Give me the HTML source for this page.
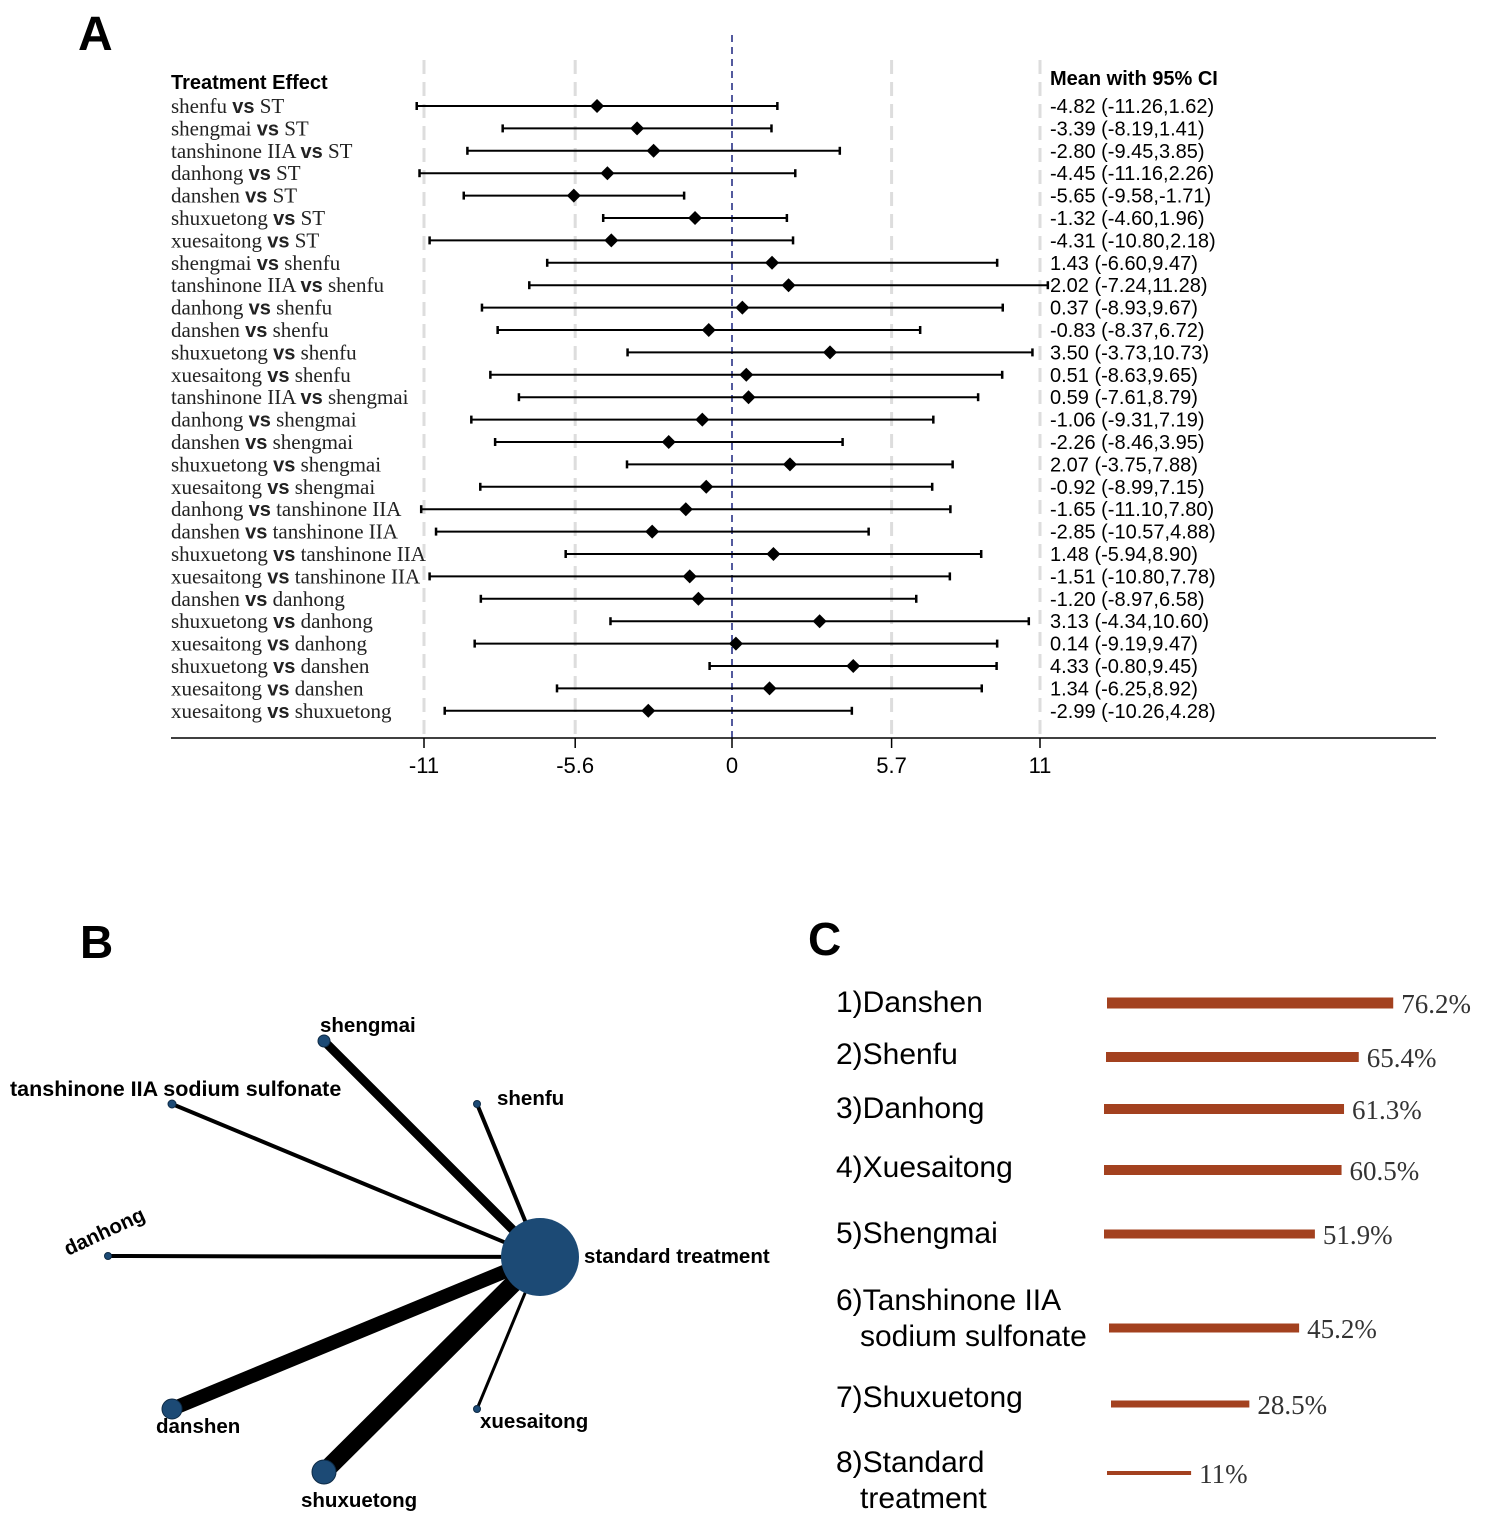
<!DOCTYPE html>
<html><head><meta charset="utf-8"><style>
body{margin:0;background:#fff;}
svg{display:block;}
.ser{font-family:"Liberation Serif",serif;}
.san{font-family:"Liberation Sans",sans-serif;}
</style></head><body>
<svg id="fig" width="1500" height="1522" viewBox="0 0 1500 1522" xmlns="http://www.w3.org/2000/svg">
<text x="78" y="50" class="san" font-size="48" font-weight="bold">A</text>
<text x="80" y="958" class="san" font-size="46" font-weight="bold">B</text>
<text x="808" y="955" class="san" font-size="46" font-weight="bold">C</text>
<text x="171" y="89" class="san" font-size="20" font-weight="bold">Treatment Effect</text>
<text x="1050" y="85" class="san" font-size="20" font-weight="bold">Mean with 95% CI</text>
<g id="forest"></g>
<g id="net"></g>
<g id="rank"></g>
</svg>
<script>
const lefts=["shenfu","shengmai","tanshinone IIA","danhong","danshen","shuxuetong","xuesaitong","shengmai","tanshinone IIA","danhong","danshen","shuxuetong","xuesaitong","tanshinone IIA","danhong","danshen","shuxuetong","xuesaitong","danhong","danshen","shuxuetong","xuesaitong","danshen","shuxuetong","xuesaitong","shuxuetong","xuesaitong","xuesaitong"];
const rights=["ST","ST","ST","ST","ST","ST","ST","shenfu","shenfu","shenfu","shenfu","shenfu","shenfu","shengmai","shengmai","shengmai","shengmai","shengmai","tanshinone IIA","tanshinone IIA","tanshinone IIA","tanshinone IIA","danhong","danhong","danhong","danshen","danshen","shuxuetong"];
const means=[-4.82,-3.39,-2.80,-4.45,-5.65,-1.32,-4.31,1.43,2.02,0.37,-0.83,3.50,0.51,0.59,-1.06,-2.26,2.07,-0.92,-1.65,-2.85,1.48,-1.51,-1.20,3.13,0.14,4.33,1.34,-2.99];
const lows=[-11.26,-8.19,-9.45,-11.16,-9.58,-4.60,-10.80,-6.60,-7.24,-8.93,-8.37,-3.73,-8.63,-7.61,-9.31,-8.46,-3.75,-8.99,-11.10,-10.57,-5.94,-10.80,-8.97,-4.34,-9.19,-0.80,-6.25,-10.26];
const highs=[1.62,1.41,3.85,2.26,-1.71,1.96,2.18,9.47,11.28,9.67,6.72,10.73,9.65,8.79,7.19,3.95,7.88,7.15,7.80,4.88,8.90,7.78,6.58,10.60,9.47,9.45,8.92,4.28];
const ticks=[-11,-5.6,0,5.7,11];
const tickLabels=["-11","-5.6","0","5.7","11"];
const NS="http://www.w3.org/2000/svg";
function mk(tag,attrs,parent,txt){const e=document.createElementNS(NS,tag);for(const k in attrs)e.setAttribute(k,attrs[k]);if(txt!==undefined)e.textContent=txt;parent.appendChild(e);return e;}
const xS=v=>732+v*28;
const yS=i=>106+i*22.4;
const F=document.getElementById('forest');
ticks.forEach((t,i)=>{
 if(t!==0){const l=mk('line',{x1:xS(t),x2:xS(t),y1:60,y2:738,stroke:'#ddd','stroke-width':3,'stroke-dasharray':'14,8'},F);
 
 }
 const tk=mk('line',{x1:xS(t),x2:xS(t),y1:738,y2:748,stroke:'#000','stroke-width':1.5},F);
 
 
 const tl=mk('text',{x:xS(t),y:773,'text-anchor':'middle','font-size':22,'class':'san'},F,tickLabels[i]);
 
 
});
const zl=mk('line',{x1:xS(0),x2:xS(0),y1:35,y2:738,stroke:'#1a237e','stroke-width':1.5,'stroke-dasharray':'7,5'},F);


const ax=mk('line',{x1:171,x2:1436,y1:738,y2:738,stroke:'#000','stroke-width':1.5},F);


means.forEach((m,i)=>{
 const y=yS(i);
 const lab=mk('text',{x:171,y:y+7,'font-size':21,'class':'ser',fill:'#222'},F);
 
 
 mk('tspan',{},lab,lefts[i]+' ');
 mk('tspan',{'class':'san','font-weight':'bold','font-size':20},lab,'vs');
 mk('tspan',{},lab,' '+rights[i]);
 const g=mk('g',{},F);
 
 
 mk('line',{x1:xS(lows[i]),x2:xS(highs[i]),y1:y,y2:y,stroke:'#000','stroke-width':2},g);
 mk('line',{x1:xS(lows[i]),x2:xS(lows[i]),y1:y-4,y2:y+4,stroke:'#000','stroke-width':2.5},g);
 mk('line',{x1:xS(highs[i]),x2:xS(highs[i]),y1:y-4,y2:y+4,stroke:'#000','stroke-width':2.5},g);
 const cx=xS(m);
 mk('polygon',{points:`${cx},${y-7} ${cx+7},${y} ${cx},${y+7} ${cx-7},${y}`,fill:'#000'},g);
 const vt=mk('text',{x:1050,y:y+7,'font-size':20,'class':'san'},F,`${m.toFixed(2)} (${lows[i].toFixed(2)},${highs[i].toFixed(2)})`);
 
 
});
// Network
const nodes=[["shengmai",324,1041,6,9,320,1032],["tanshinone IIA sodium sulfonate",172,1104,4,4,10,1096],["shenfu",477,1104,3.5,4,497,1105],["danhong",108,1256,3.5,4,0,0],["danshen",172,1409,10,14,156,1433],["shuxuetong",324,1472,12,18,301,1507],["xuesaitong",477,1409,3.5,3,480,1428]];
const N=document.getElementById('net');
nodes.forEach(n=>{const l=mk('line',{x1:540,y1:1257,x2:n[1],y2:n[2],stroke:'#000','stroke-width':n[4]},N);
 
 });
const hub=mk('circle',{cx:540,cy:1257,r:39,fill:'#1c4a75'},N);


const ht=mk('text',{x:584,y:1263,'font-size':20.5,'font-weight':'bold','class':'san'},N,'standard treatment');


nodes.forEach(n=>{const c=mk('circle',{cx:n[1],cy:n[2],r:n[3],fill:'#1c4a75',stroke:'#0d2a45','stroke-width':1},N);
 
 
 const t=n[0]==='danhong'?mk('text',{x:0,y:0,'font-size':20.5,'font-weight':'bold','class':'san',transform:'translate(68,1256) rotate(-25)'},N,n[0]):mk('text',{x:n[5],y:n[6],'font-size':n[0].length>20?21.5:20.5,'font-weight':'bold','class':'san'},N,n[0]);
 
 });
// Ranking
const rankNames=[["1)Danshen"],["2)Shenfu"],["3)Danhong"],["4)Xuesaitong"],["5)Shengmai"],["6)Tanshinone IIA","  sodium sulfonate"],["7)Shuxuetong"],["8)Standard","  treatment"]];
const rankVals=[76.2,65.4,61.3,60.5,51.9,45.2,28.5,11];
const rankLabels=["76.2%","65.4%","61.3%","60.5%","51.9%","45.2%","28.5%","11%"];
const rY=[1003,1057,1109,1170,1234,1328,1404,1473];
const rX=[1107,1106,1104,1104,1104,1109,1111,1107];
const rH=[11,10,10,10,9,9,7,4];
const bL=v=>50+v*3.1;
const R=document.getElementById('rank');
rankVals.forEach((v,i)=>{
 const ty=[1012,1064,1118,1177,1243,1310,1407,1472][i];
 const t=mk('text',{x:836,y:ty,'font-size':30,'class':'san'},R);
 
 
 rankNames[i].forEach((s,j)=>mk('tspan',{x:j?860:836,dy:j?36:0},t,s.trim()));
 const b=mk('rect',{x:rX[i],y:rY[i]-rH[i]/2,width:bL(v),height:rH[i],fill:'#a3411f'},R);
 
 
 const p=mk('text',{x:rX[i]+bL(v)+8,y:rY[i]+10,'font-size':27,'class':'ser',fill:'#333'},R,rankLabels[i]);
 
 
});
</script>
</body></html>
